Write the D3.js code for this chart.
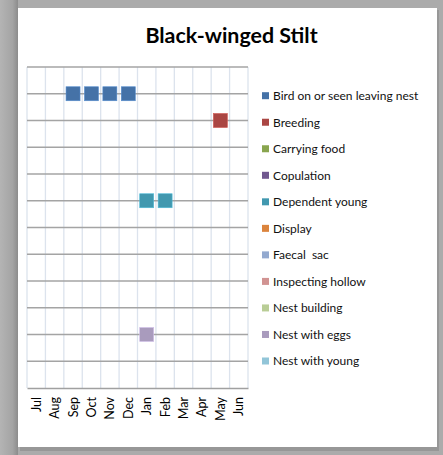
<!DOCTYPE html>
<html>
<head>
<meta charset="utf-8">
<script src="https://cdn.jsdelivr.net/npm/d3@7/dist/d3.min.js"></script>
<style>
  html, body { margin: 0; padding: 0; background: #ababab; }
  svg { display: block; }
  text { font-family: Lato, "Open Sans", sans-serif; white-space: pre; }
</style>
</head>
<body>
<div id="chart"></div>
<script>
// ---- data ----
const title = "Black-winged Stilt";
const months = ["Jul","Aug","Sep","Oct","Nov","Dec","Jan","Feb","Mar","Apr","May","Jun"];
const seriesNames = ["Bird on or seen leaving nest","Breeding","Carrying food","Copulation",
  "Dependent young","Display","Faecal  sac","Inspecting hollow","Nest building",
  "Nest with eggs","Nest with young"];
const seriesLevels = [11,10,9,8,7,6,5,4,3,2,1];
const seriesMonths = [
  ["Sep","Oct","Nov","Dec"],
  ["May"],
  [],
  [],
  ["Jan","Feb"],
  [],
  [],
  [],
  [],
  ["Jan"],
  []
];
const seriesColors = ["#4572a7","#aa4643","#89a54e","#71588f","#4198af","#db843d",
  "#93a9cf","#d19392","#b9cd96","#a99bbd","#92c5d8"];
const yTicks = [1,2,3,4,5,6,7,8,9,10,11,12];

// ---- layout ----
const W = 443, H = 455;
const plot = {left: 27, right: 248, top: 67, bottom: 388};

const svg = d3.select("#chart").append("svg").attr("width", W).attr("height", H);

// background & shadow
const defs = svg.append("defs");
const lg = defs.append("linearGradient").attr("id","leftShade").attr("x1",0).attr("x2",1);
lg.append("stop").attr("offset","0%").attr("stop-color","#b4b4b4");
lg.append("stop").attr("offset","70%").attr("stop-color","#a4a4a4");
lg.append("stop").attr("offset","100%").attr("stop-color","#8c8c8c");
svg.append("rect").attr("width", W).attr("height", H).attr("fill","#ababab");
svg.append("rect").attr("x",0).attr("y",0).attr("width",18).attr("height",H).attr("fill","url(#leftShade)");
svg.append("rect").attr("x",20).attr("y",10).attr("width",419).attr("height",441).attr("fill","#8a8a8a").attr("opacity",0.6);
svg.append("rect").attr("x",18).attr("y",8).attr("width",419).attr("height",439).attr("fill","#ffffff");

const x = d3.scaleBand().domain(months).range([plot.left, plot.right]).padding(0);
const y = d3.scaleLinear().domain([0,12]).range([plot.bottom, plot.top]);

// vertical gridlines
const vx = months.map(m => x(m)).concat([x(months[months.length-1]) + x.bandwidth()]);
svg.append("g").selectAll("line").data(vx).join("line")
  .attr("x1", d => d).attr("x2", d => d)
  .attr("y1", plot.top).attr("y2", plot.bottom)
  .attr("stroke", "#dce3ed").attr("stroke-width", 1.3);

// horizontal gridlines
svg.append("g").selectAll("line").data(yTicks).join("line")
  .attr("x1", plot.left).attr("x2", plot.right)
  .attr("y1", d => y(d)).attr("y2", d => y(d))
  .attr("stroke", "#a4a4a4").attr("stroke-width", 1.5);

// x axis
const xAxis = d3.axisBottom(x).tickSize(0).tickPadding(0);
const gx = svg.append("g").attr("transform", `translate(0,${plot.bottom})`).call(xAxis);
gx.select(".domain").attr("stroke", "#a0a0a0").attr("stroke-width", 1.3);
gx.selectAll(".tick text")
  .attr("transform", "rotate(-90)")
  .attr("x", -9).attr("y", 0).attr("dy", "0.36em")
  .attr("text-anchor", "end")
  .attr("font-size", 12.5)
  .attr("font-family", "Lato, sans-serif")
  .attr("fill", "#000");

// markers
const ms = 14;
seriesNames.forEach((name, i) => {
  svg.append("g").selectAll("rect").data(seriesMonths[i]).join("rect")
    .attr("x", d => x(d) + x.bandwidth()/2 - ms/2)
    .attr("y", y(seriesLevels[i]) - ms/2)
    .attr("width", ms).attr("height", ms)
    .attr("fill", seriesColors[i])
    .attr("stroke", d3.color(seriesColors[i]).brighter(0.6))
    .attr("stroke-width", 0.6);
});

// legend
const legTop = 95.7, legStep = 26.53;
const leg = svg.append("g");
seriesNames.forEach((name, i) => {
  const cy = legTop + i * legStep;
  leg.append("rect").attr("x", 262).attr("y", cy - 3.5).attr("width", 7).attr("height", 7)
    .attr("fill", seriesColors[i]);
  leg.append("text").attr("x", 273).attr("y", cy + 4.3)
    .attr("font-size", 12).attr("fill", "#111").attr("xml:space", "preserve").text(name);
});

// title
svg.append("text").attr("x", 231.5).attr("y", 43)
  .attr("text-anchor", "middle").attr("font-weight", "bold")
  .attr("font-size", 21.4).attr("fill", "#000").text(title);
</script>
</body>
</html>
